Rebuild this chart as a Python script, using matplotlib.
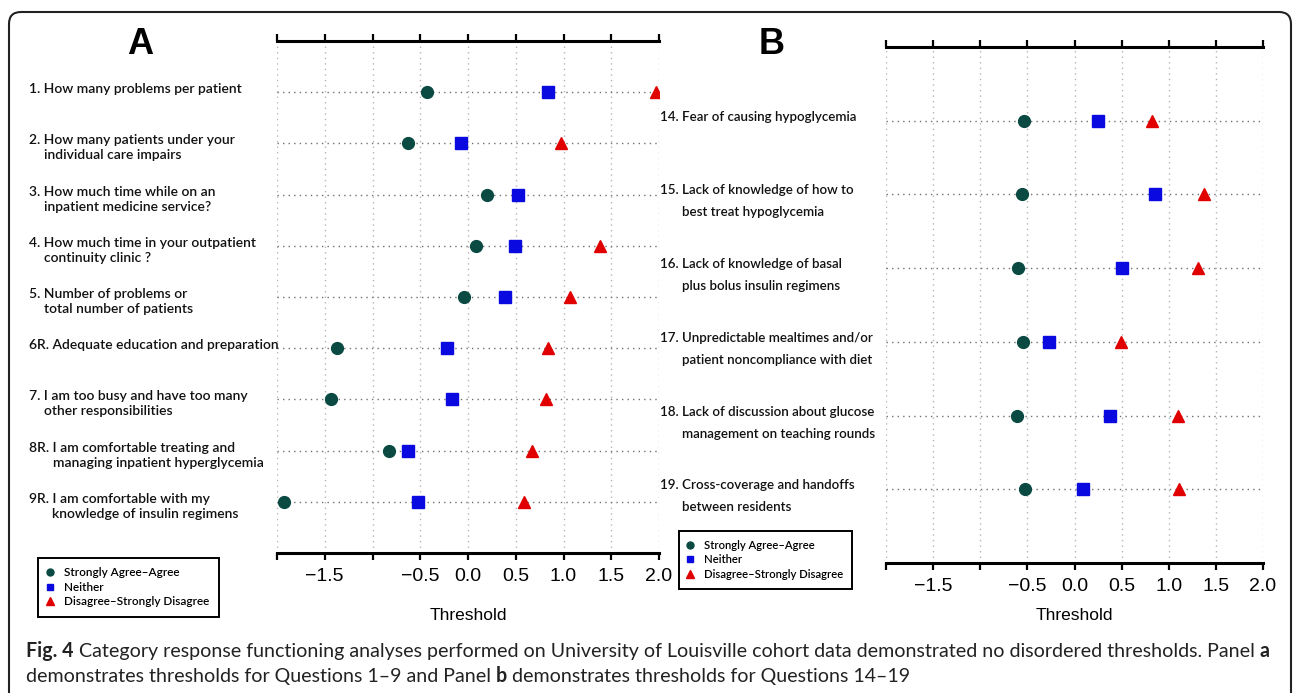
import numpy as np
import matplotlib
matplotlib.use("Agg")
import matplotlib.pyplot as plt
from matplotlib.lines import Line2D
from matplotlib.patches import FancyBboxPatch

W, H, DPI = 1295, 693, 100

# ---- data ----
ticks = [-2.0, -1.5, -1.0, -0.5, 0.0, 0.5, 1.0, 1.5, 2.0]
tick_labels = ["", "\u22121.5", "", "\u22120.5", "0.0", "0.5", "1.0", "1.5", "2.0"]

labels_a = [
    ["1. How many problems per patient"],
    ["2. How many patients under your", "individual care impairs"],
    ["3. How much time while on an", "inpatient medicine service?"],
    ["4. How much time in your outpatient", "continuity clinic ?"],
    ["5. Number of problems or", "total number of patients"],
    ["6R. Adequate education and preparation"],
    ["7. I am too busy and have too many", "other responsibilities"],
    ["8R. I am comfortable treating and", "managing inpatient hyperglycemia"],
    ["9R. I am comfortable with my", "knowledge of insulin regimens"],
]
agree_a = [-0.43, -0.63, 0.20, 0.08, -0.04, -1.37, -1.43, -0.83, -1.93]
neither_a = [0.84, -0.07, 0.52, 0.49, 0.39, -0.22, -0.17, -0.63, -0.52]
disagree_a = [1.97, 0.97, np.nan, 1.38, 1.07, 0.84, 0.82, 0.67, 0.59]

labels_b = [
    ["14. Fear of causing hypoglycemia"],
    ["15. Lack of knowledge of how to", "best treat hypoglycemia"],
    ["16. Lack of knowledge of basal", "plus bolus insulin regimens"],
    ["17. Unpredictable mealtimes and/or", "patient noncompliance with diet"],
    ["18. Lack of discussion about glucose", "management on teaching rounds"],
    ["19. Cross-coverage and handoffs", "between residents"],
]
agree_b = [-0.54, -0.56, -0.60, -0.55, -0.61, -0.52]
neither_b = [0.25, 0.85, 0.50, -0.27, 0.38, 0.09]
disagree_b = [0.82, 1.37, 1.31, 0.49, 1.10, 1.11]

series_names = ["Strongly Agree\u2013Agree", "Neither", "Disagree\u2013Strongly Disagree"]

C_AGREE = "#0a4a42"
C_NEITHER = "#0a0ae0"
C_DISAGREE = "#e00000"
LABEL_FONT = "Lato"
LABEL_WEIGHT = "semibold"
NUM_FONT = "Liberation Sans"
CAP_FONT = "Lato"

fig = plt.figure(figsize=(W / DPI, H / DPI), dpi=DPI)
renderer = fig.canvas.get_renderer()


def fx(px):
    return px / W


def fy(py):
    return 1 - py / H


def text_width(s, fs, weight=LABEL_WEIGHT, family=LABEL_FONT):
    # width in px, keeping leading/trailing spaces
    t1 = fig.text(0, 0, "X" + s + "X", fontsize=fs, weight=weight, family=family)
    t2 = fig.text(0, 0, "XX", fontsize=fs, weight=weight, family=family)
    w = t1.get_window_extent(renderer).width - t2.get_window_extent(renderer).width
    t1.remove()
    t2.remove()
    return w


def panel(box, agree, neither, disagree, labelpad):
    x0, y0, x1, y1 = box
    ax = fig.add_axes([fx(x0), fy(y1), (x1 - x0) / W, (y1 - y0) / H])
    n = len(agree)
    rows = np.arange(1, n + 1)
    ax.set_xlim(-2, 2)
    ax.set_ylim(n + 1, 0)
    for x in ticks:
        ax.axvline(x, color="#b5b5b5", lw=1.0, ls=(0, (1, 3)), zorder=1)
    for y in rows:
        ax.axhline(y, color="#707070", lw=1.0, ls=(0, (1, 3)), zorder=1)
    ax.plot(agree, rows, "o", ms=8.5, color=C_AGREE, zorder=3)
    ax.plot(neither, rows, "s", ms=8, color=C_NEITHER, zorder=3)
    ax.plot(disagree, rows, "^", ms=8.5, color=C_DISAGREE, zorder=3)
    for side in ("left", "right"):
        ax.spines[side].set_visible(False)
    for side in ("top", "bottom"):
        ax.spines[side].set_linewidth(2.2)
    ax.set_yticks([])
    ax.set_xticks(ticks)
    ax.set_xticklabels(tick_labels, fontsize=14, family=NUM_FONT)
    ax.tick_params(axis="x", top=True, bottom=True, direction="out",
                   length=5, width=1.6, pad=6)
    ax.set_xlabel("Threshold", fontsize=12.5, family=NUM_FONT, labelpad=labelpad)
    return ax


def put_labels(ax, lines_list, x_px, fs, d1, d2):
    for i, lines in enumerate(lines_list):
        y = i + 1
        ax.annotate(lines[0], xy=(fx(x_px), y), xycoords=("figure fraction", "data"),
                    xytext=(0, d1), textcoords="offset points", va="center",
                    ha="left", fontsize=fs, family=LABEL_FONT, weight=LABEL_WEIGHT,
                    color="#111111")
        if len(lines) > 1:
            indent = text_width(lines[0].split(" ")[0] + " ", fs)
            ax.annotate(lines[1], xy=(fx(x_px + indent), y),
                        xycoords=("figure fraction", "data"),
                        xytext=(0, d2), textcoords="offset points", va="center",
                        ha="left", fontsize=fs, family=LABEL_FONT, weight=LABEL_WEIGHT,
                        color="#111111")


def legend_at(x_px, y_px, fs):
    handles = [
        Line2D([], [], ls="none", marker="o", ms=5, color=C_AGREE),
        Line2D([], [], ls="none", marker="s", ms=5, color=C_NEITHER),
        Line2D([], [], ls="none", marker="^", ms=5.5, color=C_DISAGREE),
    ]
    leg = fig.legend(handles, series_names, loc="upper left",
                     bbox_to_anchor=(fx(x_px), fy(y_px)), bbox_transform=fig.transFigure,
                     borderaxespad=0, fancybox=False, edgecolor="black", framealpha=1,
                     prop={"family": LABEL_FONT, "size": fs, "weight": LABEL_WEIGHT},
                     handlelength=0.4, handletextpad=1.0, borderpad=0.8, labelspacing=0.3)
    leg.get_frame().set_linewidth(1.4)
    return leg


ax_a = panel((277, 41, 659, 553), agree_a, neither_a, disagree_a, labelpad=16)
ax_b = panel((886, 47, 1263, 563), agree_b, neither_b, disagree_b, labelpad=9)

fs_a = 8.5 * 212 / text_width(labels_a[0][0], 8.5)
fs_b = 8.5 * 197 / text_width(labels_b[0][0], 8.5)
put_labels(ax_a, labels_a, 29, fs_a, 2.2, -8.6)
put_labels(ax_b, labels_b, 660, fs_b, 2.9, -13.0)

legend_at(38, 558, 7 * 146 / text_width(series_names[2], 7))
legend_at(679, 531, 7 * 140 / text_width(series_names[2], 7))

fig.text(fx(140), fy(44), "A", fontsize=26, weight="bold", family=NUM_FONT,
         ha="center", va="center")
fig.text(fx(772), fy(44), "B", fontsize=26, weight="bold", family=NUM_FONT,
         ha="center", va="center")

# rounded outer frame, open at the bottom edge of the image
frame = FancyBboxPatch((0.09, -0.3), 12.82, (H - 12) / DPI + 0.3,
                       boxstyle="round,pad=0,rounding_size=0.12",
                       transform=fig.dpi_scale_trans, fill=False,
                       edgecolor="#222222", lw=1.5)
fig.add_artist(frame)

# caption with bold pieces
cap1 = [("Fig. 4", "bold"),
        (" Category response functioning analyses performed on University of Louisville "
         "cohort data demonstrated no disordered thresholds. Panel ", "normal"),
        ("a", "bold")]
cap2 = [("demonstrates thresholds for Questions 1\u20139 and Panel ", "normal"),
        ("b", "bold"),
        (" demonstrates thresholds for Questions 14\u201319", "normal")]


def runs_width(runs, fs):
    return sum(text_width(s, fs, w, CAP_FONT) for s, w in runs)


fs_cap = 14 * 1243 / runs_width(cap1, 14)
for runs, base in ((cap1, 657), (cap2, 682)):
    x = 26
    for s, w in runs:
        fig.text(fx(x), fy(base), s, fontsize=fs_cap, weight=w, family=CAP_FONT,
                 va="baseline", ha="left", color="#222222")
        x += text_width(s, fs_cap, w, CAP_FONT)

fig.savefig("out.png", dpi=DPI)
